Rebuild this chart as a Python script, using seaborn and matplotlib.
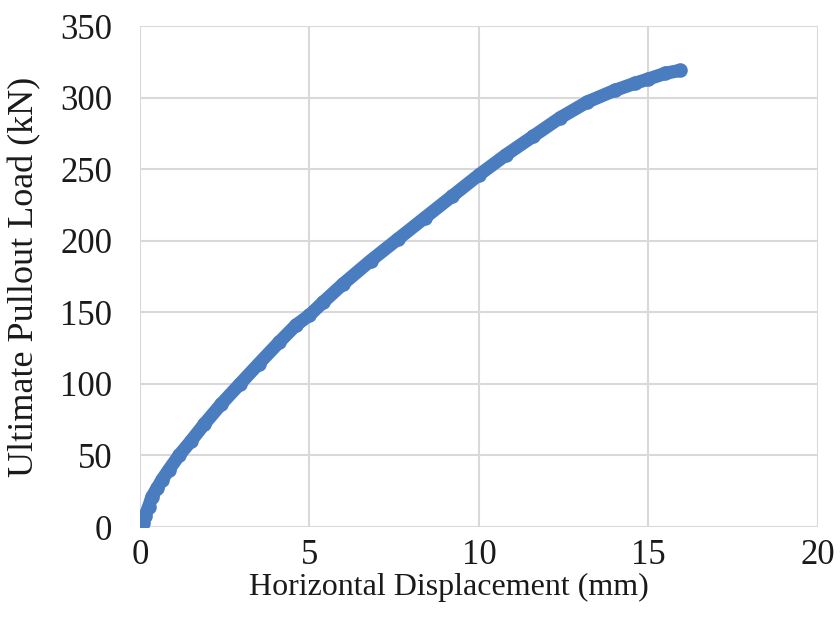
import pandas as pd
import seaborn as sns
import matplotlib
matplotlib.use("Agg")
import matplotlib.pyplot as plt

displacement = [0.0, 0.08, 0.15, 0.25, 0.35, 0.5, 0.65, 0.85, 1.15, 1.5,
                1.9, 2.4, 2.95, 3.5, 4.1, 4.6, 5.0, 5.4, 6.0, 6.8,
                7.6, 8.4, 9.2, 10.0, 10.8, 11.6, 12.4, 13.2, 14.0, 14.6,
                15.0, 15.5, 15.93]
load = [0, 3, 8, 14, 21, 27, 33, 40, 50, 60,
        72, 86, 100, 114, 129, 141, 148, 157, 170, 186,
        201, 216, 231, 246, 260, 273, 286, 297, 305, 310,
        313, 317, 319]

x_ticks = [0, 5, 10, 15, 20]
y_ticks = [0, 50, 100, 150, 200, 250, 300, 350]

df = pd.DataFrame({"disp": displacement, "load": load})

sns.set_style("whitegrid")
plt.rcParams["font.family"] = ["Liberation Serif", "DejaVu Serif"]

fig = plt.figure(figsize=(8.4, 6.2), dpi=100)
ax = fig.add_axes([0.1667, 0.15, 0.807, 0.808])

sns.lineplot(
    data=df, x="disp", y="load", sort=False,
    color="#4A7CC0", linewidth=9.5, marker="o",
    markersize=10.5, markeredgewidth=0, ax=ax
)

ax.set_xlim(0, 20)
ax.set_ylim(0, 350)
ax.set_xticks(x_ticks)
ax.set_yticks(y_ticks)

ax.grid(True, color="#d9d9d9", linewidth=1.5)
for s in ax.spines.values():
    s.set_visible(False)

ax.tick_params(axis="both", labelsize=25, colors="#1a1a1a", length=0)
ax.tick_params(axis="x", pad=9)
ax.tick_params(axis="y", pad=20)

ax.set_xlabel("Horizontal Displacement (mm)", fontsize=23, color="#1a1a1a")
ax.set_ylabel("Ultimate Pullout Load (kN)", fontsize=26, color="#1a1a1a")
ax.xaxis.set_label_coords(0.455, -0.092)
ax.yaxis.set_label_coords(-0.145, 0.5)

fig.savefig("out.png", dpi=100, facecolor="white")
